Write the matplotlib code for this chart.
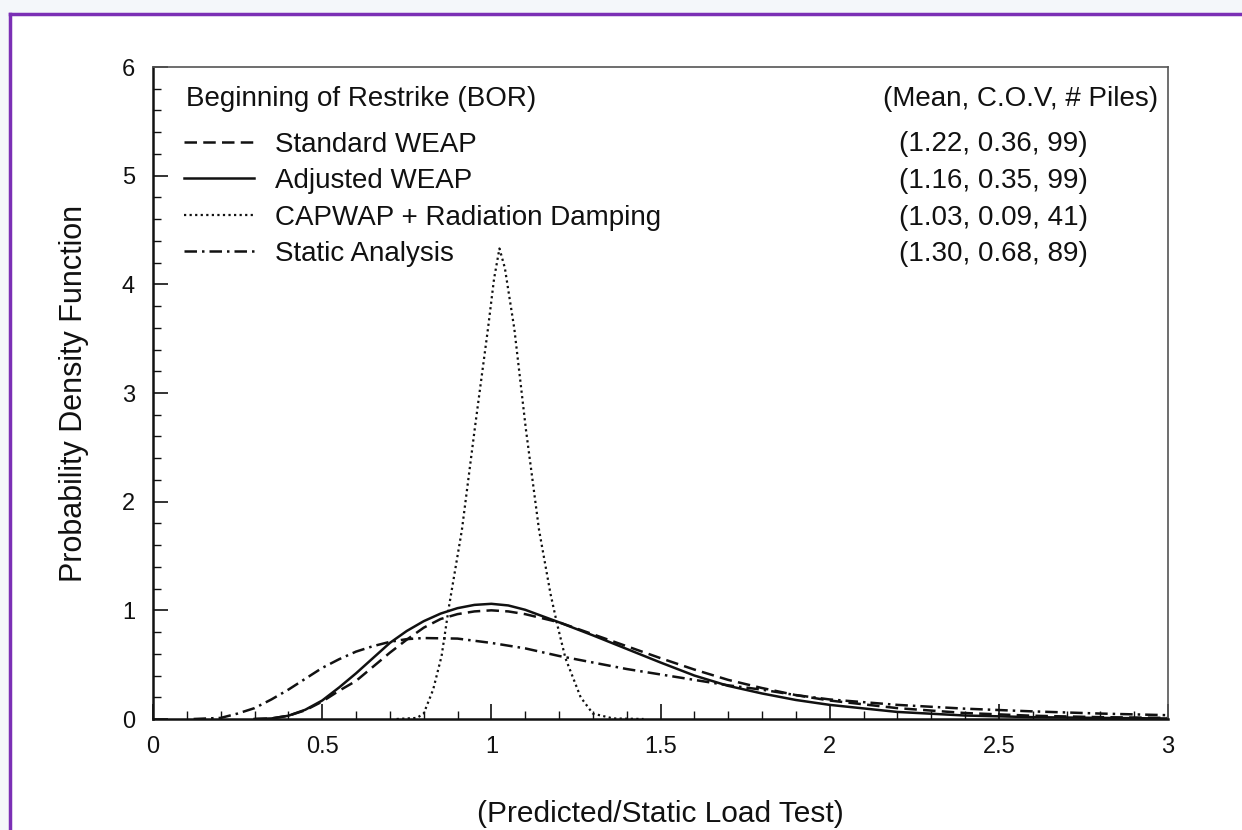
import matplotlib
matplotlib.use('Agg')
import matplotlib.pyplot as plt
from matplotlib.lines import Line2D
from matplotlib.patches import Rectangle
from matplotlib.ticker import MultipleLocator

plt.rcParams['font.family'] = ['Liberation Sans', 'DejaVu Sans']

# valori (x = Predicted/Static, y = densita')
std_x = [0.30, 0.35, 0.40, 0.45, 0.50, 0.55, 0.60, 0.65, 0.70, 0.75, 0.80, 0.85, 0.90, 0.95, 1.00, 1.05,
         1.10, 1.20, 1.30, 1.40, 1.50, 1.60, 1.70, 1.80, 1.90, 2.00, 2.20, 2.40, 2.60, 2.80, 3.00]
std_y = [0.00, 0.005, 0.03, 0.08, 0.16, 0.26, 0.35, 0.48, 0.61, 0.73, 0.84, 0.92, 0.965, 0.99, 1.00, 0.99,
         0.965, 0.89, 0.78, 0.67, 0.56, 0.455, 0.36, 0.285, 0.22, 0.17, 0.10, 0.055, 0.03, 0.017, 0.01]

adj_x = [0.30, 0.35, 0.40, 0.45, 0.50, 0.55, 0.60, 0.65, 0.70, 0.75, 0.80, 0.85, 0.90, 0.95, 1.00, 1.05,
         1.10, 1.20, 1.30, 1.40, 1.50, 1.60, 1.70, 1.80, 1.90, 2.00, 2.20, 2.40, 2.60, 2.80, 3.00]
adj_y = [0.00, 0.005, 0.03, 0.085, 0.17, 0.29, 0.42, 0.56, 0.70, 0.81, 0.90, 0.97, 1.02, 1.05, 1.06, 1.045,
         1.005, 0.89, 0.77, 0.645, 0.52, 0.40, 0.305, 0.235, 0.175, 0.13, 0.065, 0.032, 0.017, 0.01, 0.005]

cap_x = [0.72, 0.78, 0.80, 0.828, 0.853, 0.874, 0.913, 0.951, 0.990, 1.008, 1.024, 1.040, 1.068, 1.102,
         1.141, 1.175, 1.194, 1.219, 1.264, 1.300, 1.360, 1.450]
cap_y = [0.00, 0.01, 0.05, 0.27, 0.58, 1.02, 1.74, 2.67, 3.59, 4.05, 4.33, 4.15, 3.59, 2.67,
         1.74, 1.15, 0.88, 0.56, 0.20, 0.05, 0.005, 0.00]

sta_x = [0.12, 0.20, 0.25, 0.30, 0.35, 0.40, 0.45, 0.50, 0.55, 0.60, 0.65, 0.70, 0.75, 0.80, 0.90, 1.00,
         1.10, 1.20, 1.30, 1.40, 1.50, 1.60, 1.70, 1.80, 1.90, 2.00, 2.20, 2.40, 2.60, 2.80, 3.00]
sta_y = [0.00, 0.01, 0.05, 0.10, 0.18, 0.27, 0.37, 0.47, 0.55, 0.62, 0.67, 0.71, 0.735, 0.745, 0.74, 0.70,
         0.65, 0.58, 0.52, 0.46, 0.41, 0.36, 0.31, 0.27, 0.22, 0.18, 0.13, 0.095, 0.07, 0.05, 0.035]

labels = ['Standard WEAP', 'Adjusted WEAP', 'CAPWAP + Radiation Damping', 'Static Analysis']
stats = ['(1.22, 0.36, 99)', '(1.16, 0.35, 99)', '(1.03, 0.09, 41)', '(1.30, 0.68, 89)']
x_ticks = [0, 0.5, 1, 1.5, 2, 2.5, 3]
x_ticklabels = ['0', '0.5', '1', '1.5', '2', '2.5', '3']
y_ticks = [0, 1, 2, 3, 4, 5, 6]

fig = plt.figure(figsize=(12.42, 8.30), dpi=100)
fig.patch.set_facecolor('#F4F7FA')
# fondo bianco dentro la cornice viola
fig.add_artist(Rectangle((10 / 1242, 0), 1 - 10 / 1242, 1 - 14 / 830, transform=fig.transFigure,
                         facecolor='white', edgecolor='none', zorder=0))

ax = fig.add_axes([153 / 1242, 1 - 719 / 830, 1015 / 1242, 652 / 830])
ax.set_facecolor('white')

ink = '#111111'
l1, = ax.plot(std_x, std_y, color=ink, lw=1.8, linestyle=(0, (5, 2.5)))
l2, = ax.plot(adj_x, adj_y, color=ink, lw=1.8, linestyle='-')
l3, = ax.plot(cap_x, cap_y, color=ink, lw=1.6, linestyle=(0, (1, 1.5)))
l4, = ax.plot(sta_x, sta_y, color=ink, lw=1.8, linestyle=(0, (5, 2, 1, 2)))

ax.set_xlim(0, 3)
ax.set_ylim(0, 6)
ax.set_xticks(x_ticks)
ax.set_xticklabels(x_ticklabels)
ax.set_yticks(y_ticks)
ax.xaxis.set_minor_locator(MultipleLocator(0.1))
ax.yaxis.set_minor_locator(MultipleLocator(0.2))
ax.tick_params(which='major', direction='in', length=11, width=1.2, labelsize=17,
               top=False, right=False, colors=ink)
ax.tick_params(which='minor', direction='in', length=6, width=1.0, top=False, right=False, colors=ink)
ax.tick_params(axis='x', which='major', pad=12)
ax.tick_params(axis='y', which='major', pad=13)

for s in ['left', 'bottom']:
    ax.spines[s].set_linewidth(1.8)
    ax.spines[s].set_color(ink)
for s in ['top', 'right']:
    ax.spines[s].set_linewidth(1.2)
    ax.spines[s].set_color('#555555')

ax.set_xlabel('(Predicted/Static Load Test)', fontsize=21.5, color=ink)
ax.set_ylabel('Probability Density Function', fontsize=22, color=ink)
ax.xaxis.set_label_coords(0.5, -0.124)
ax.yaxis.set_label_coords(-0.063, 0.5)

# titolo della legenda e colonna statistiche
ax.text(0.0325, 0.951, 'Beginning of Restrike (BOR)', transform=ax.transAxes, ha='left', va='center',
        fontsize=20, color=ink)
leg = ax.legend([l1, l2, l3, l4], labels, loc='upper left', bbox_to_anchor=(0.031, 0.901),
                frameon=False, fontsize=20, handlelength=2.5, handletextpad=0.75,
                labelspacing=0.38, borderpad=0, borderaxespad=0)
for t in leg.get_texts():
    t.set_color(ink)

ax.text(0.990, 0.951, '(Mean, C.O.V, # Piles)', transform=ax.transAxes, ha='right', va='center',
        fontsize=20, color=ink)
for i, s in enumerate(stats):
    ax.text(0.8276, 0.882 - i * 0.0565, s, transform=ax.transAxes, ha='center', va='center',
            fontsize=20, color=ink)

# cornice viola
fig.add_artist(Line2D([10 / 1242, 1], [1 - 14 / 830, 1 - 14 / 830], transform=fig.transFigure,
                      color='#7B2FB5', lw=2.5))
fig.add_artist(Line2D([10 / 1242, 10 / 1242], [0, 1 - 14 / 830], transform=fig.transFigure,
                      color='#7B2FB5', lw=2.5))

fig.savefig('out.png', dpi=100, facecolor=fig.get_facecolor())
